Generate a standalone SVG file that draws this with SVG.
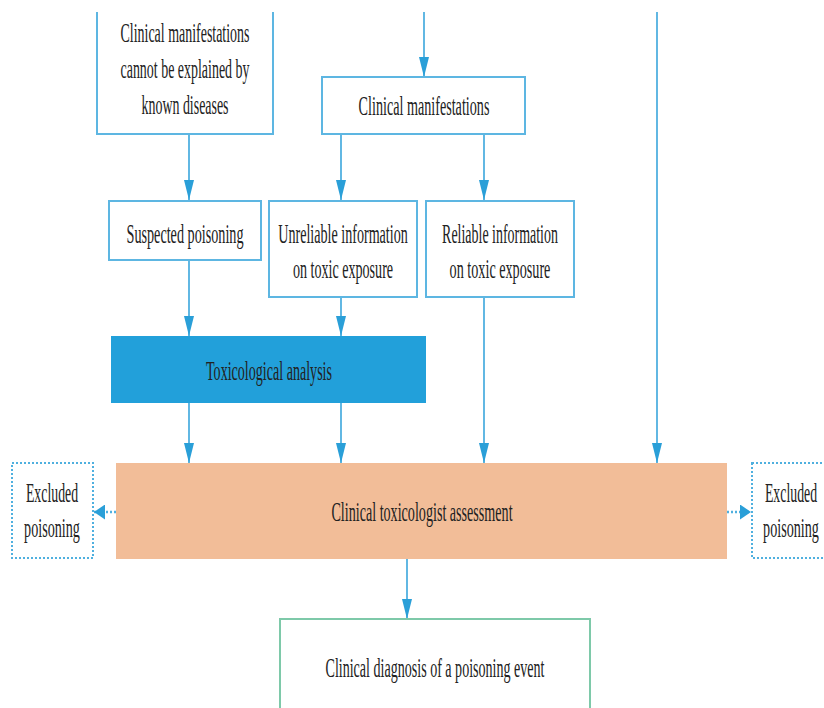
<svg xmlns="http://www.w3.org/2000/svg" width="824" height="708" viewBox="0 0 824 708">
<defs>
<style>
.box{fill:#fff;stroke:#5db6e2;stroke-width:2}
.dot{fill:#fff;stroke:#4fb0df;stroke-width:2;stroke-dasharray:2 2}
.ln{stroke:#3aa6dc;stroke-width:1.6;fill:none}
.dl{stroke:#4fb0df;stroke-width:2.5;stroke-dasharray:2 2;fill:none}
text{font-family:"Liberation Serif","Times New Roman",serif;font-size:27px;fill:#222;text-anchor:middle}
</style>
<marker id="ah" markerUnits="userSpaceOnUse" viewBox="0 0 20 10" markerWidth="20" markerHeight="10" refX="20" refY="5" orient="auto">
<path d="M0,0 L20,5 L0,10 z" fill="#2a9fd8"/>
</marker>
<marker id="ahs" markerUnits="userSpaceOnUse" viewBox="0 0 11 15" markerWidth="11" markerHeight="15" refX="11" refY="7.5" orient="auto">
<path d="M0,0 L11,7.5 L0,15 z" fill="#2a9fd8"/>
</marker>
</defs>
<rect width="824" height="708" fill="#fff"/>

<g id="connectors">
<line class="ln" x1="189" y1="134" x2="189" y2="200" marker-end="url(#ah)"/>
<line class="ln" x1="424" y1="12" x2="424" y2="77" marker-end="url(#ah)"/>
<line class="ln" x1="657" y1="12" x2="657" y2="463" marker-end="url(#ah)"/>
<line class="ln" x1="341" y1="134" x2="341" y2="200" marker-end="url(#ah)"/>
<line class="ln" x1="484" y1="134" x2="484" y2="200" marker-end="url(#ah)"/>
<line class="ln" x1="189" y1="260" x2="189" y2="336" marker-end="url(#ah)"/>
<line class="ln" x1="341" y1="297" x2="341" y2="336" marker-end="url(#ah)"/>
<line class="ln" x1="484" y1="297" x2="484" y2="463" marker-end="url(#ah)"/>
<line class="ln" x1="189" y1="403" x2="189" y2="463" marker-end="url(#ah)"/>
<line class="ln" x1="341" y1="403" x2="341" y2="463" marker-end="url(#ah)"/>
<line class="ln" x1="407" y1="559" x2="407" y2="619" marker-end="url(#ah)"/>
<line class="dl" x1="116" y1="512" x2="94" y2="512" marker-end="url(#ahs)"/>
<line class="dl" x1="727" y1="512" x2="751" y2="512" marker-end="url(#ahs)"/>
</g>

<g id="unexplained">
<path class="box" d="M97,12 V134 H273 V12"/>
<text transform="translate(185,42) scale(0.6,1)" textLength="215" lengthAdjust="spacingAndGlyphs">Clinical manifestations</text>
<text transform="translate(185,78) scale(0.6,1)" textLength="215" lengthAdjust="spacingAndGlyphs">cannot be explained by</text>
<text transform="translate(185,114) scale(0.6,1)" textLength="145" lengthAdjust="spacingAndGlyphs">known diseases</text>
</g>

<g id="manifestations">
<rect class="box" x="322" y="77" width="203" height="57"/>
<text transform="translate(424,115) scale(0.6,1)" textLength="218" lengthAdjust="spacingAndGlyphs">Clinical manifestations</text>
</g>

<g id="suspected">
<rect class="box" x="109" y="201" width="152" height="59"/>
<text transform="translate(185,243) scale(0.6,1)" textLength="195" lengthAdjust="spacingAndGlyphs">Suspected poisoning</text>
</g>

<g id="unreliable">
<rect class="box" x="269" y="201" width="148" height="96"/>
<text transform="translate(343,243) scale(0.6,1)" textLength="216" lengthAdjust="spacingAndGlyphs">Unreliable information</text>
<text transform="translate(343,278) scale(0.6,1)" textLength="167" lengthAdjust="spacingAndGlyphs">on toxic exposure</text>
</g>

<g id="reliable">
<rect class="box" x="426" y="201" width="148" height="96"/>
<text transform="translate(500,243) scale(0.6,1)" textLength="193" lengthAdjust="spacingAndGlyphs">Reliable information</text>
<text transform="translate(500,278) scale(0.6,1)" textLength="168" lengthAdjust="spacingAndGlyphs">on toxic exposure</text>
</g>

<g id="toxicological">
<rect x="111" y="336" width="315" height="67" fill="#22a0da"/>
<text transform="translate(269,380) scale(0.6,1)" textLength="210" lengthAdjust="spacingAndGlyphs">Toxicological analysis</text>
</g>

<g id="assessment">
<rect x="116" y="463" width="611" height="96" fill="#f2bd98"/>
<text transform="translate(422,521) scale(0.6,1)" textLength="302" lengthAdjust="spacingAndGlyphs">Clinical toxicologist assessment</text>
</g>

<g id="excluded-left">
<rect class="dot" x="12" y="463" width="81" height="95"/>
<text transform="translate(52,502) scale(0.6,1)" textLength="87" lengthAdjust="spacingAndGlyphs">Excluded</text>
<text transform="translate(52,537) scale(0.6,1)" textLength="93" lengthAdjust="spacingAndGlyphs">poisoning</text>
</g>

<g id="excluded-right">
<rect class="dot" x="752" y="463" width="80" height="95"/>
<text transform="translate(791,502) scale(0.6,1)" textLength="87" lengthAdjust="spacingAndGlyphs">Excluded</text>
<text transform="translate(791,537) scale(0.6,1)" textLength="93" lengthAdjust="spacingAndGlyphs">poisoning</text>
</g>

<g id="diagnosis">
<path d="M280,708 V619 H590 V708" fill="#fff" stroke="#7ec9a9" stroke-width="2"/>
<text transform="translate(435,677) scale(0.6,1)" textLength="365" lengthAdjust="spacingAndGlyphs">Clinical diagnosis of a poisoning event</text>
</g>
</svg>
